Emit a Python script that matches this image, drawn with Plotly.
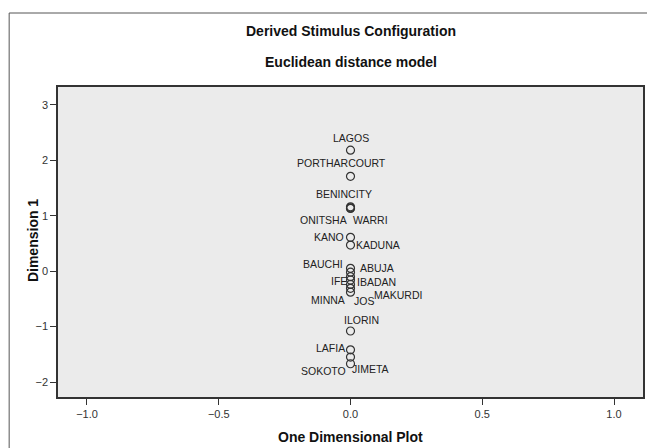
import plotly.graph_objects as go

# Stimulus coordinates (one-dimensional solution, plotted at x = 0)
cities = ["LAGOS", "PORTHARCOURT", "BENINCITY", "ONITSHA", "WARRI",
          "KANO", "KADUNA", "BAUCHI", "ABUJA", "IFE", "IBADAN",
          "MINNA", "JOS", "MAKURDI", "ILORIN", "LAFIA", "JIMETA", "SOKOTO"]
plot_x = [0.0] * len(cities)
dimension_1 = [2.18, 1.71, 1.16, 1.14, 1.13,
               0.61, 0.47, 0.05, -0.02, -0.16, -0.10,
               -0.38, -0.31, -0.24, -1.08, -1.42, -1.67, -1.55]

x_ticks = [-1.0, -0.5, 0.0, 0.5, 1.0]
y_ticks = [-2, -1, 0, 1, 2, 3]

# label offsets in pixels (dx, dy) relative to each point
label_offsets = {
    "LAGOS": (0, 12), "PORTHARCOURT": (-9, 13), "BENINCITY": (-7, 13),
    "ONITSHA": (-27, -12), "WARRI": (20, -12), "KANO": (-22, 0),
    "KADUNA": (27, 0), "BAUCHI": (-28, 4), "ABUJA": (26, 4),
    "IFE": (-12, -1), "IBADAN": (26, -5), "MINNA": (-23, -8),
    "JOS": (13, -13), "MAKURDI": (47, -11), "ILORIN": (11, 11),
    "LAFIA": (-20, 2), "JIMETA": (20, -5), "SOKOTO": (-27, -14),
}

FONT = "Liberation Sans, Arial, sans-serif"
DARK = "#333333"

fig = go.Figure()
fig.add_trace(go.Scatter(
    x=plot_x, y=dimension_1, mode="markers",
    marker=dict(symbol="circle-open", size=8, color=DARK, line=dict(width=1.2)),
    hovertext=cities, showlegend=False,
))

for name, xv, yv in zip(cities, plot_x, dimension_1):
    dx, dy = label_offsets[name]
    fig.add_annotation(x=xv, y=yv, text=name, showarrow=False,
                       xshift=dx, yshift=dy,
                       font=dict(family=FONT, size=10.5, color="#222222"))

# titles and axis titles (paper coordinates from pixel positions)
def paper_text(text, px, py, angle=0):
    fig.add_annotation(xref="paper", yref="paper",
                       x=(px - 58) / 587, y=(397 - py) / 310,
                       xanchor="center", yanchor="middle",
                       text=f"<b>{text}</b>", showarrow=False, textangle=angle,
                       font=dict(family=FONT, size=14, color="#111111"))

paper_text("Derived Stimulus Configuration", 352, 31)
paper_text("Euclidean distance model", 352, 62)
paper_text("One Dimensional Plot", 352, 437)
paper_text("Dimension 1", 33, 241, angle=-90)

# outer chart frame
fig.add_shape(type="rect", xref="paper", yref="paper",
              x0=(9 - 58) / 587, x1=1.02, y0=-0.3, y1=(397 - 13) / 310,
              line=dict(color="#555555", width=1), layer="below")

fig.update_xaxes(range=[-1.11, 1.11], tickvals=x_ticks, tickformat=".1f",
                 ticks="outside", ticklen=6, tickcolor=DARK, showgrid=False,
                 zeroline=False, showline=True, linecolor=DARK, linewidth=1.5, mirror=True,
                 tickfont=dict(family=FONT, size=11, color=DARK))
fig.update_yaxes(range=[-2.27, 3.32], tickvals=y_ticks,
                 ticks="outside", ticklen=6, tickcolor=DARK, showgrid=False,
                 zeroline=False, showline=True, linecolor=DARK, linewidth=1.5, mirror=True,
                 tickfont=dict(family=FONT, size=11, color=DARK))

fig.update_layout(
    width=647, height=448,
    margin=dict(l=58, r=2, t=87, b=51),
    plot_bgcolor="#ebebeb", paper_bgcolor="white",
    font=dict(family=FONT),
)

fig.write_html("out.html", config={"displayModeBar": False},
               post_script="document.body.style.margin='0';")
